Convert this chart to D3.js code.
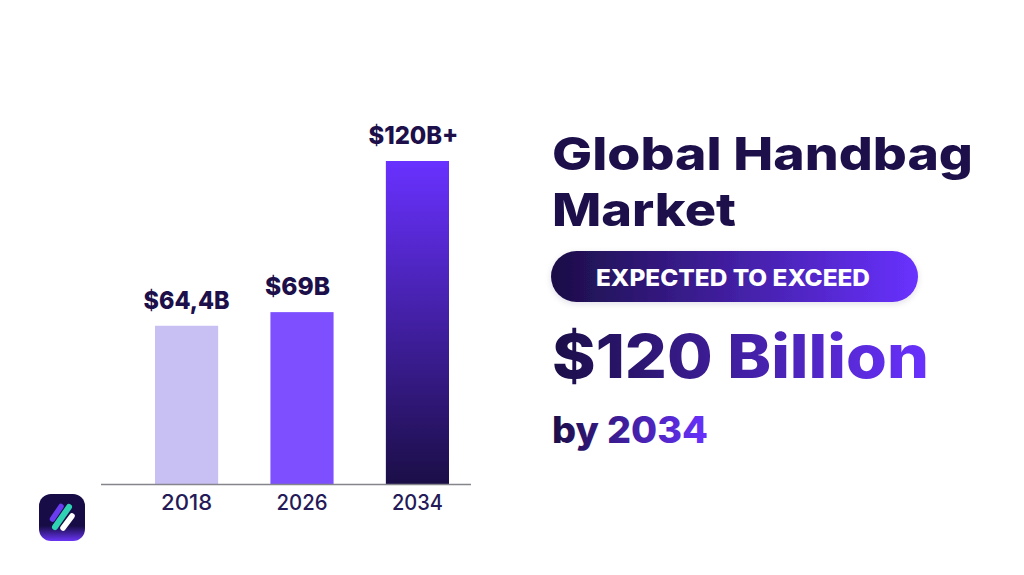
<!DOCTYPE html>
<html>
<head>
<meta charset="utf-8">
<script src="https://cdn.jsdelivr.net/npm/d3@7/dist/d3.min.js"></script>
<style>
  html, body { margin: 0; background: #fff; }
  svg { display: block; }
  text { font-family: Inter, "Open Sans", sans-serif; }
</style>
</head>
<body>
<svg id="chart" width="1024" height="575"></svg>
<script>
const years = ["2018", "2026", "2034"];
const values = [64.4, 69, 120];
const valueLabels = ["$64,4B", "$69B", "$120B+"];
const titleLines = ["Global Handbag", "Market"];
const pillText = "EXPECTED TO EXCEED";
const headline = "$120 Billion";
const subline = ["by ", "2034"];

// Label widths and nudges, kept apart from the values above
const valueLabelWidths = [86, 65, 90];
const valueLabelNudge = [0, -4.5, -4];

const INK = "#1c0f4a", VIOLET = "#6931ff";
const svg = d3.select("#chart");
const defs = svg.append("defs");

function linearGradient(id, stops, x1, y1, x2, y2) {
  const g = defs.append("linearGradient").attr("id", id)
    .attr("gradientUnits", "userSpaceOnUse")
    .attr("x1", x1).attr("y1", y1).attr("x2", x2).attr("y2", y2);
  stops.forEach(([o, c]) => g.append("stop").attr("offset", o).attr("stop-color", c));
}
linearGradient("barFade", [[0, VIOLET], [1, "#1b0e47"]], 0, 161, 0, 484);
linearGradient("pillFade", [[0, "#1b0e47"], [1, VIOLET]], 551, 0, 918, 0);
linearGradient("headlineFade", [[0, "#1b0e47"], [1, VIOLET]], 552, 0, 929, 0);
linearGradient("sublineFade", [[0, "#1b0e47"], [1, VIOLET]], 552, 0, 708, 0);
linearGradient("badgeFade", [[0, "#170c45"], [0.68, "#170c45"], [1, "#6a35f5"]], 0, 494, 0, 541);

const shadow = defs.append("filter").attr("id", "softShadow")
  .attr("x", "-5%").attr("y", "-20%").attr("width", "110%").attr("height", "150%");
shadow.append("feDropShadow").attr("dx", 0).attr("dy", 2).attr("stdDeviation", 3)
  .attr("flood-color", "#1b0e47").attr("flood-opacity", 0.12);

// Bars
const x = d3.scaleBand().domain(years).range([155, 449]).paddingInner(0.453);
const y = d3.scaleLinear().domain([11, 120]).range([484, 161]);
const barFills = ["#c8bff2", "#7d4fff", "url(#barFade)"];

svg.append("g").selectAll("rect").data(years).join("rect")
  .attr("x", d => x(d))
  .attr("width", x.bandwidth())
  .attr("y", (d, i) => y(values[i]))
  .attr("height", (d, i) => y.range()[0] - y(values[i]))
  .attr("fill", (d, i) => barFills[i]);

svg.append("g").selectAll("text").data(years).join("text")
  .attr("x", (d, i) => x(d) + x.bandwidth() / 2 + valueLabelNudge[i])
  .attr("y", (d, i) => y(values[i]) - 17)
  .attr("text-anchor", "middle")
  .attr("font-size", 25).attr("font-weight", 800).attr("fill", INK)
  .attr("textLength", (d, i) => valueLabelWidths[i])
  .attr("lengthAdjust", "spacingAndGlyphs")
  .text((d, i) => valueLabels[i]);

// Baseline and year labels
svg.append("line").attr("x1", 101).attr("x2", 471).attr("y1", 484.5).attr("y2", 484.5)
  .attr("stroke", "#85858c").attr("stroke-width", 1.5);

const axis = svg.append("g").attr("transform", "translate(0,484)")
  .call(d3.axisBottom(x).tickSize(0).tickPadding(11));
axis.select(".domain").remove();
axis.selectAll("text")
  .attr("font-size", 21).attr("font-weight", 500).attr("fill", "#241a58")
  .attr("textLength", 51).attr("lengthAdjust", "spacingAndGlyphs")
  .style("font-family", "Inter, sans-serif");

// Right-hand message block
const wide = (sel, width) => sel.attr("textLength", width).attr("lengthAdjust", "spacingAndGlyphs");

titleLines.forEach((line, i) => {
  svg.append("text").attr("x", 552).attr("y", [170, 225.5][i])
    .attr("font-size", 45.5).attr("font-weight", 800).attr("fill", INK)
    .call(wide, [421, 184][i]).text(line);
});

svg.append("rect").attr("x", 551).attr("y", 251).attr("width", 367).attr("height", 51)
  .attr("rx", 25.5).attr("fill", "url(#pillFade)").attr("filter", "url(#softShadow)");
svg.append("text").attr("x", 596).attr("y", 286)
  .attr("font-size", 22.5).attr("font-weight", 800).attr("fill", "#fff")
  .call(wide, 274).text(pillText);

svg.append("text").attr("x", 552).attr("y", 378)
  .attr("font-size", 60).attr("font-weight", 800).attr("fill", "url(#headlineFade)")
  .call(wide, 377).text(headline);

svg.append("text").attr("x", 552).attr("y", 443)
  .attr("font-size", 37).attr("font-weight", 800).attr("fill", "url(#sublineFade)")
  .call(wide, 156).text(subline.join(""));

// Brand badge
const badge = svg.append("g");
badge.append("rect").attr("x", 39).attr("y", 494).attr("width", 46).attr("height", 47)
  .attr("rx", 12).attr("fill", "url(#badgeFade)");
const badgeStrokes = [
  [52.5, 519, 61, 506.5, "#6a3cf0", 5.5],
  [55, 527, 69, 507, "#2fd3b4", 6],
  [63, 528, 72, 516, "#ffffff", 5.5]
];
badge.selectAll("line").data(badgeStrokes).join("line")
  .attr("x1", d => d[0]).attr("y1", d => d[1])
  .attr("x2", d => d[2]).attr("y2", d => d[3])
  .attr("stroke", d => d[4]).attr("stroke-width", d => d[5])
  .attr("stroke-linecap", "round");
</script>
</body>
</html>
